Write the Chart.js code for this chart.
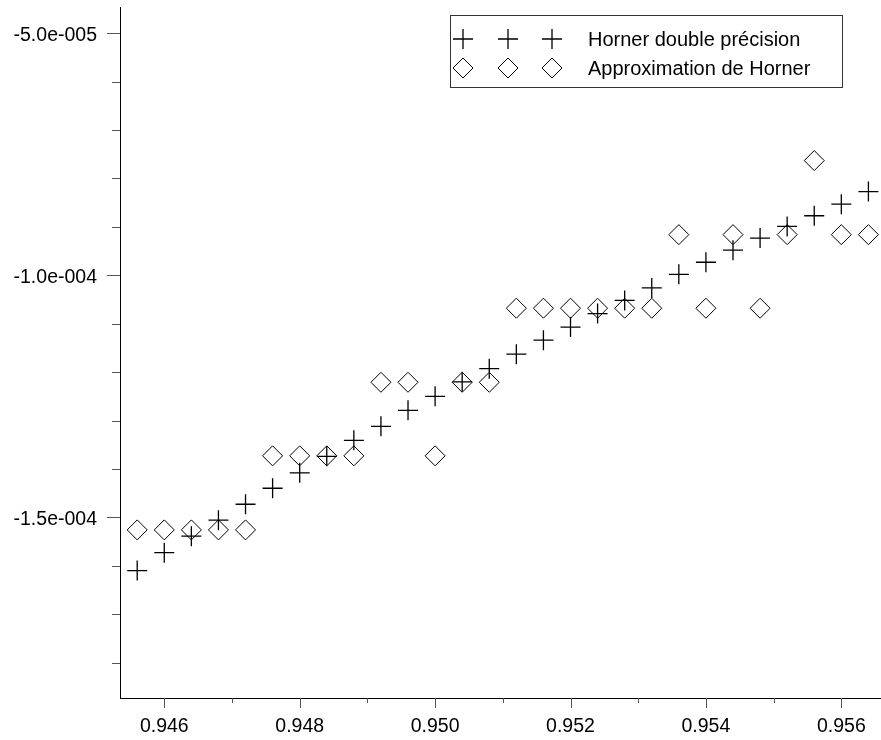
<!DOCTYPE html>
<html>
<head>
<meta charset="utf-8">
<script src="https://cdn.jsdelivr.net/npm/chart.js@4/dist/chart.umd.min.js"></script>
<style>
  html, body { margin: 0; padding: 0; background: #fff; overflow: hidden; }
  canvas { display: block; }
</style>
</head>
<body>
<canvas id="plot" width="881" height="740"></canvas>
<script>
// x positions of the samples
xValues = [0.9456, 0.9460, 0.9464, 0.9468, 0.9472, 0.9476, 0.9480, 0.9484, 0.9488, 0.9492,
           0.9496, 0.9500, 0.9504, 0.9508, 0.9512, 0.9516, 0.9520, 0.9524, 0.9528, 0.9532,
           0.9536, 0.9540, 0.9544, 0.9548, 0.9552, 0.9556, 0.9560, 0.9564];

// Horner double precision (crosses)
hornerDouble = [-1.610e-4, -1.573e-4, -1.539e-4, -1.506e-4, -1.473e-4, -1.440e-4, -1.408e-4,
                -1.374e-4, -1.341e-4, -1.312e-4, -1.279e-4, -1.250e-4, -1.220e-4, -1.193e-4,
                -1.163e-4, -1.134e-4, -1.107e-4, -1.079e-4, -1.052e-4, -1.026e-4, -0.998e-4,
                -0.973e-4, -0.948e-4, -0.923e-4, -0.899e-4, -0.877e-4, -0.853e-4, -0.827e-4];

// Approximation de Horner (diamonds)
hornerApprox = [-1.526e-4, -1.526e-4, -1.526e-4, -1.526e-4, -1.526e-4, -1.373e-4, -1.373e-4,
                -1.373e-4, -1.373e-4, -1.221e-4, -1.221e-4, -1.373e-4, -1.221e-4, -1.221e-4,
                -1.068e-4, -1.068e-4, -1.068e-4, -1.068e-4, -1.068e-4, -1.068e-4, -0.916e-4,
                -1.068e-4, -0.916e-4, -1.068e-4, -0.916e-4, -0.763e-4, -0.916e-4, -0.916e-4];

seriesNames = ['Horner double précision', 'Approximation de Horner'];

// tick values and labels
xMajor = [0.946, 0.948, 0.950, 0.952, 0.954, 0.956];
xMajorLabels = ['0.946', '0.948', '0.950', '0.952', '0.954', '0.956'];
xMinor = [0.947, 0.949, 0.951, 0.953, 0.955];
yMajor = [-1.5e-4, -1.0e-4, -5.0e-5];
yMajorLabels = ['-1.5e-004', '-1.0e-004', '-5.0e-005'];
yMinor = [-1.8e-4, -1.7e-4, -1.6e-4, -1.4e-4, -1.3e-4, -1.2e-4, -1.1e-4, -9e-5, -8e-5, -7e-5, -6e-5];

FONT = '"Liberation Sans", Arial, sans-serif';

function toPoints(ys) {
    pts = [];
    for (i = 0; i < xValues.length; i++) {
        pts.push({x: xValues[i], y: ys[i]});
    }
    return pts;
}

// no extra room for overflowing tick labels
function noLabelPadding(s) {
    s.paddingTop = 0;
    s.paddingBottom = 0;
    s.paddingLeft = 0;
    s.paddingRight = 0;
}

// draws major / minor tick marks outside the axes
tickMarks = {
    id: 'tickMarks',
    afterDraw(chart) {
        ctx = chart.ctx;
        xs = chart.scales.x;
        ys = chart.scales.y;
        area = chart.chartArea;
        ctx.save();
        ctx.strokeStyle = '#555';
        ctx.lineWidth = 1;
        ctx.beginPath();
        xMajor.forEach(v => {
            px = Math.round(xs.getPixelForValue(v)) + 0.5;
            ctx.moveTo(px, area.bottom); ctx.lineTo(px, area.bottom + 10);
        });
        xMinor.forEach(v => {
            px = Math.round(xs.getPixelForValue(v)) + 0.5;
            ctx.moveTo(px, area.bottom); ctx.lineTo(px, area.bottom + 5);
        });
        yMajor.forEach(v => {
            py = Math.round(ys.getPixelForValue(v)) + 0.5;
            ctx.moveTo(area.left, py); ctx.lineTo(area.left - 13, py);
        });
        yMinor.forEach(v => {
            py = Math.round(ys.getPixelForValue(v)) + 0.5;
            ctx.moveTo(area.left, py); ctx.lineTo(area.left - 8, py);
        });
        ctx.stroke();
        ctx.restore();
    }
};

// legend box with three symbols per entry
boxLegend = {
    id: 'boxLegend',
    afterDraw(chart) {
        ctx = chart.ctx;
        ctx.save();
        ctx.strokeStyle = '#333';
        ctx.lineWidth = 1;
        ctx.strokeRect(450.5, 15.5, 392, 72);
        rows = [39, 68];
        symX = [463, 508, 552];
        r = 10;
        ctx.strokeStyle = '#000';
        symX.forEach(sx => {
            // cross
            ctx.lineWidth = 1.3;
            ctx.beginPath();
            ctx.moveTo(sx - r, rows[0]); ctx.lineTo(sx + r, rows[0]);
            ctx.moveTo(sx, rows[0] - r); ctx.lineTo(sx, rows[0] + r);
            ctx.stroke();
            // diamond
            ctx.lineWidth = 1;
            ctx.beginPath();
            ctx.moveTo(sx - r, rows[1]); ctx.lineTo(sx, rows[1] - r);
            ctx.lineTo(sx + r, rows[1]); ctx.lineTo(sx, rows[1] + r);
            ctx.closePath();
            ctx.stroke();
        });
        ctx.fillStyle = '#000';
        ctx.font = '20px ' + FONT;
        ctx.textBaseline = 'middle';
        ctx.fillText(seriesNames[0], 588, rows[0] + 1);
        ctx.fillText(seriesNames[1], 588, rows[1] + 1);
        ctx.restore();
    }
};

var chart = new Chart(document.getElementById('plot'), {
    type: 'scatter',
    data: {
        datasets: [{
            label: seriesNames[1],
            data: toPoints(hornerApprox),
            pointStyle: 'rectRot',
            pointRadius: 10,
            pointHoverRadius: 10,
            borderColor: '#000',
            backgroundColor: 'rgba(0,0,0,0)',
            borderWidth: 1,
            showLine: false
        }, {
            label: seriesNames[0],
            data: toPoints(hornerDouble),
            pointStyle: 'cross',
            pointRadius: 10,
            pointHoverRadius: 10,
            borderColor: '#000',
            backgroundColor: '#000',
            borderWidth: 1.3,
            showLine: false
        }]
    },
    options: {
        responsive: false,
        animation: false,
        events: [],
        layout: { autoPadding: false, padding: { top: 7, right: 0, left: 0, bottom: 0 } },
        plugins: {
            legend: { display: false },
            tooltip: { enabled: false }
        },
        scales: {
            x: {
                type: 'linear',
                min: 0.945346,
                max: 0.956586,
                afterBuildTicks: s => { s.ticks = xMajor.map(v => ({value: v})); },
                afterFit: s => { s.height = 42; noLabelPadding(s); },
                grid: { display: false, drawTicks: false },
                border: { display: true, color: '#000', width: 1 },
                ticks: {
                    autoSkip: false,
                    maxRotation: 0,
                    padding: 17,
                    color: '#000',
                    font: { size: 19.5, family: FONT },
                    callback: (v, i) => xMajorLabels[i]
                }
            },
            y: {
                type: 'linear',
                min: -1.8733e-4,
                max: -4.457e-5,
                afterBuildTicks: s => { s.ticks = yMajor.map(v => ({value: v})); },
                afterFit: s => { s.width = 120; noLabelPadding(s); },
                grid: { display: false, drawTicks: false },
                border: { display: true, color: '#000', width: 1 },
                ticks: {
                    autoSkip: false,
                    padding: 23,
                    labelOffset: 2,
                    color: '#000',
                    font: { size: 19.5, family: FONT },
                    callback: (v, i) => yMajorLabels[i]
                }
            }
        }
    },
    plugins: [tickMarks, boxLegend]
});
</script>
</body>
</html>
